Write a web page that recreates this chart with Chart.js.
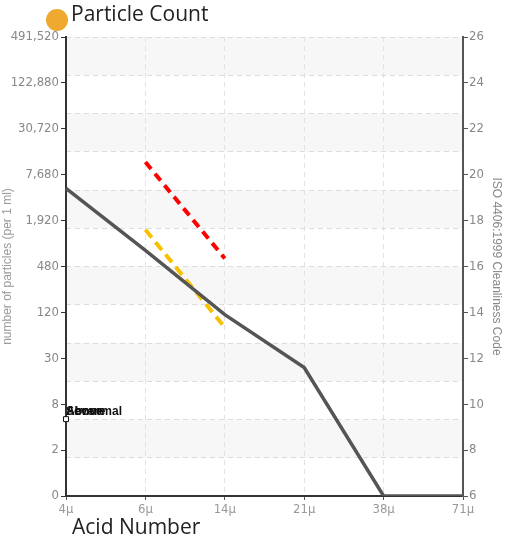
<!DOCTYPE html>
<html>
<head>
<meta charset="utf-8">
<script src="https://cdn.jsdelivr.net/npm/chart.js@4"></script>
<style>
  html, body { margin: 0; padding: 0; background: #fff; }
  canvas { display: block; }
</style>
</head>
<body>
<canvas id="grafico" width="508" height="541"></canvas>
<script>
// categories (particle size)
const sizes = ['4μ', '6μ', '14μ', '21μ', '38μ', '71μ'];
// ISO codes
const measured = [19.4, 16.7, 13.9, 11.6, 6, 6];
const severe = [null, 20.55, 16.35, null, null, null];
const abnormal = [null, 17.6, 13.35, null, null, null];
const marker = [9.35, null, null, null, null, null];
const markerLabels = ['Severe', 'Abnormal', 'Above'];
// left axis labels for codes 6..26 step 2
const countLabels = ['0', '2', '8', '30', '120', '480', '1,920', '7,680', '30,720', '122,880', '491,520'];

const tickFont = { family: "'DejaVu Sans Condensed', 'Liberation Sans Narrow', sans-serif", size: 13 };

const bands = {
  id: 'bands',
  beforeDraw(chart) {
    const { ctx, chartArea, scales } = chart;
    const g = scales.yGrid;
    ctx.save();
    ctx.fillStyle = '#f7f7f7';
    for (let i = 0; i < 12; i++) {
      if (i % 2 === 1) {
        const y1 = g.getPixelForValue(i + 1);
        const y2 = g.getPixelForValue(i);
        ctx.fillRect(chartArea.left, y1, chartArea.right - chartArea.left, y2 - y1);
      }
    }
    ctx.restore();
  },
  afterDraw(chart) {
    const { ctx, scales } = chart;
    ctx.save();
    // title with orange dot
    ctx.fillStyle = '#eea92e';
    ctx.beginPath();
    ctx.arc(57, 20, 11, 0, Math.PI * 2);
    ctx.fill();
    ctx.fillStyle = '#222';
    ctx.font = "21px 'Open Sans', sans-serif";
    ctx.textBaseline = 'middle';
    ctx.fillText('Particle Count', 71, 15);
    ctx.fillText('Acid Number', 72, 528);
    // overlapping marker labels
    const x = scales.x.getPixelForValue(0);
    const y = scales.y.getPixelForValue(marker[0]);
    ctx.font = "bold 12px 'Liberation Sans', sans-serif";
    ctx.fillStyle = '#111';
    ctx.textBaseline = 'alphabetic';
    markerLabels.forEach(t => ctx.fillText(t, x, y - 4));
    ctx.restore();
  }
};

new Chart(document.getElementById('grafico').getContext('2d'), {
  type: 'line',
  data: {
    labels: sizes,
    datasets: [
      { data: measured, borderColor: '#555', borderWidth: 3.5, pointRadius: 0, yAxisID: 'y' },
      { data: severe, borderColor: '#ff0000', borderWidth: 4, borderDash: [9, 6], pointRadius: 0, yAxisID: 'y' },
      { data: abnormal, borderColor: '#f7c100', borderWidth: 4, borderDash: [10, 6], pointRadius: 0, yAxisID: 'y' },
      { data: marker, showLine: false, pointStyle: 'rect', pointRadius: 3.5, pointBackgroundColor: '#fff', pointBorderColor: '#111', pointBorderWidth: 1, yAxisID: 'y' }
    ]
  },
  options: {
    responsive: false,
    animation: false,
    layout: { padding: { top: 37, left: 0, right: 0, bottom: 0 } },
    plugins: {
      legend: { display: false },
      tooltip: { enabled: false }
    },
    scales: {
      x: {
        offset: false,
        ticks: { color: '#999', font: tickFont, padding: 2, maxRotation: 0 },
        grid: { color: '#e2e2e2', tickLength: 4, tickColor: '#555' },
        border: { color: '#333', width: 2, dash: [5, 4] },
        afterFit: s => { s.height = 45; }
      },
      y: {
        position: 'left',
        min: 6, max: 26,
        ticks: {
          stepSize: 2, color: '#888', font: tickFont, padding: 2,
          callback: (v, i) => countLabels[i]
        },
        grid: { drawOnChartArea: false, tickLength: 5, tickColor: '#333' },
        border: { color: '#333', width: 2 },
        title: { display: true, text: 'number of particles (per 1 ml)', color: '#999', font: { family: "'Liberation Sans Narrow', sans-serif", size: 12 }, padding: 0 },
        afterFit: s => { s.width = 66; }
      },
      yGrid: {
        position: 'left',
        min: 0, max: 12,
        ticks: { stepSize: 1, display: false },
        grid: { color: '#dcdcdc', drawTicks: false },
        border: { display: false, dash: [5, 4] },
        afterFit: s => { s.width = 0; }
      },
      y2: {
        position: 'right',
        min: 6, max: 26,
        ticks: { stepSize: 2, color: '#888', font: tickFont, padding: 1 },
        grid: { drawOnChartArea: false, tickLength: 5, tickColor: '#555' },
        border: { color: '#555', width: 2 },
        title: { display: true, text: 'ISO 4406:1999 Cleanliness Code', color: '#888', font: { family: "'Liberation Sans Narrow', sans-serif", size: 12 }, padding: 4 },
        afterFit: s => { s.width = 45; }
      }
    }
  },
  plugins: [bands]
});
</script>
</body>
</html>
